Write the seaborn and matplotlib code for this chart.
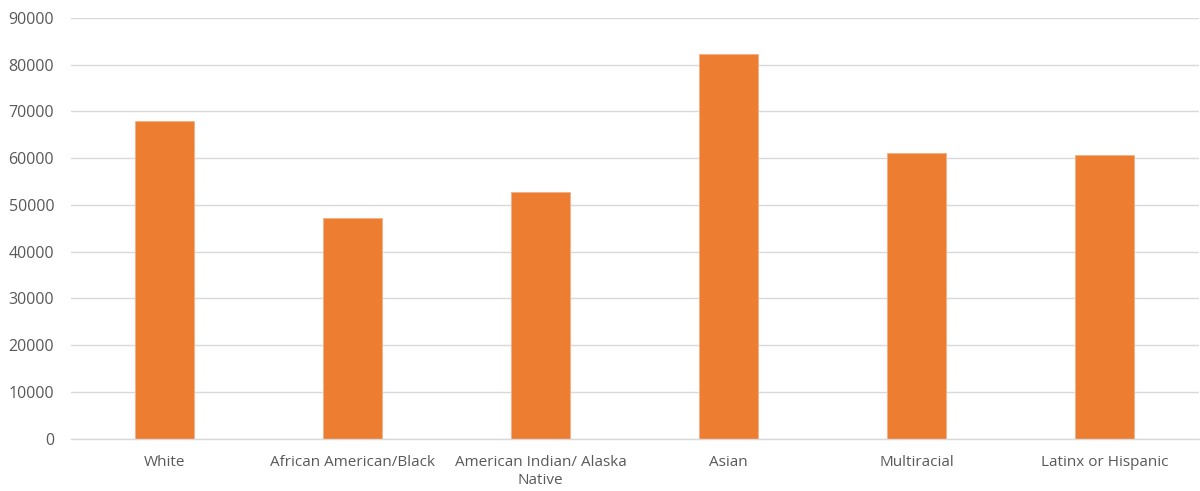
import matplotlib
matplotlib.use("Agg")
import matplotlib.pyplot as plt
import seaborn as sns
import pandas as pd

categories = ["White", "African American/Black", "American Indian/ Alaska\nNative",
              "Asian", "Multiracial", "Latinx or Hispanic"]
values = [67900, 47300, 52700, 82200, 61100, 60700]
yticks = [0, 10000, 20000, 30000, 40000, 50000, 60000, 70000, 80000, 90000]

df = pd.DataFrame({"category": categories, "value": values})

sns.set_theme(style="white")
plt.rcParams["font.family"] = ["Open Sans", "DejaVu Sans"]

fig = plt.figure(figsize=(12, 4.91), dpi=100)
ax = fig.add_axes([0.059, 0.1065, 0.94, 0.857])
sns.barplot(data=df, x="category", y="value", color="#ED7D31", width=0.314,
            saturation=1, ax=ax, edgecolor="#F4B183", linewidth=0.6)
ax.set_ylim(0, 90000)
ax.set_xlim(-0.5, len(categories) - 0.5)
ax.set_yticks(yticks)
ax.set_yticklabels([str(t) for t in yticks])
ax.yaxis.grid(True, color="#D9D9D9", linewidth=1)
ax.set_axisbelow(True)
for s in ["left", "right", "top"]:
    ax.spines[s].set_visible(False)
ax.spines["bottom"].set_color("#D9D9D9")
ax.spines["bottom"].set_linewidth(1)
ax.tick_params(axis="both", length=0, colors="#595959")
ax.tick_params(axis="x", pad=12, labelsize=11)
ax.tick_params(axis="y", pad=12, labelsize=11.5)
ax.set_xlabel("")
ax.set_ylabel("")
fig.savefig("out.png", dpi=100, facecolor="white")
